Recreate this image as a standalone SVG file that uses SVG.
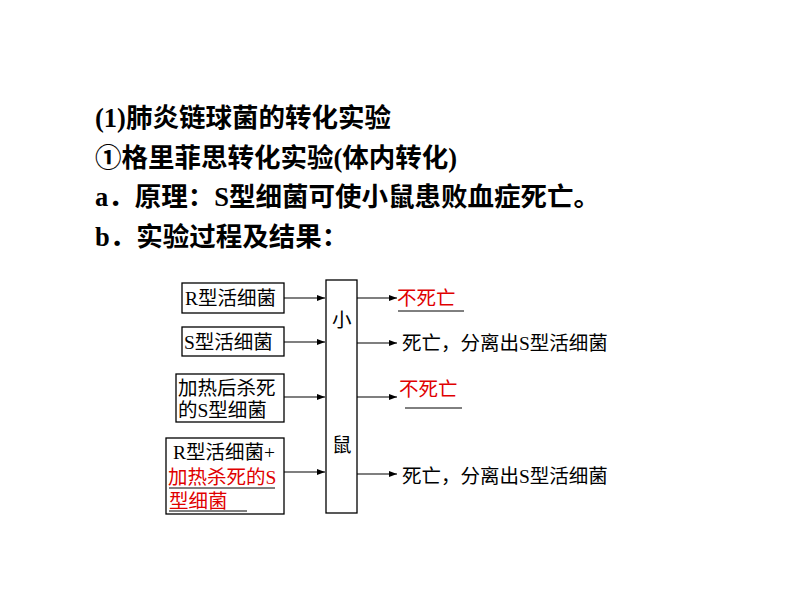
<svg xmlns="http://www.w3.org/2000/svg" width="800" height="600" viewBox="0 0 800 600">
<defs>
<marker id="ah" markerWidth="8" markerHeight="6" refX="8" refY="3" orient="auto" markerUnits="userSpaceOnUse"><path d="M0,0 L8,3 L0,6 z" fill="#000"/></marker>
<style>
text{font-family:"Liberation Serif","Noto Sans CJK SC",serif;}
.h{font-size:26.5px;font-weight:bold;fill:#000}
.n{font-size:19.5px;fill:#000}
.r{fill:#e00000}
.box{fill:#fff;stroke:#000;stroke-width:1.3}
.c{stroke:#000;stroke-width:1.2;fill:none;marker-end:url(#ah)}
.u{stroke:#000;stroke-width:1}
</style>
</defs>
<rect width="800" height="600" fill="#fff"/>
<text class="h" x="95" y="127">(1)肺炎链球菌的转化实验</text>
<text class="h" x="95" y="167">①格里菲思转化实验(体内转化)</text>
<text class="h" x="95" y="206">a．原理：S型细菌可使小鼠患败血症死亡。</text>
<text class="h" x="95" y="246">b．实验过程及结果：</text>
<g id="n1"><rect class="box" x="182" y="283" width="102" height="30"/><text class="n" x="185" y="305">R型活细菌</text></g>
<g id="n2"><rect class="box" x="182" y="327" width="102" height="29"/><text class="n" x="184" y="349">S型活细菌</text></g>
<g id="n3"><rect class="box" x="176" y="374" width="108" height="48"/><text class="n" x="178" y="395">加热后杀死</text><text class="n" x="178" y="417">的S型细菌</text></g>
<g id="n4"><rect class="box" x="166" y="438" width="118" height="76"/><text class="n" x="173" y="459">R型活细菌+</text><text class="n r" x="168" y="484">加热杀死的S</text><text class="n r" x="169" y="508">型细菌</text><line class="u" x1="169" y1="488" x2="275" y2="488"/><line class="u" x1="169" y1="511" x2="247" y2="511"/></g>
<g id="mouse"><rect class="box" x="326" y="280" width="31" height="233"/><text class="n" x="332" y="327">小</text><text class="n" x="332" y="452">鼠</text></g>
<g id="r1"><text class="n r" x="397" y="305">不死亡</text><line class="u" x1="398" y1="311" x2="464" y2="311"/></g>
<g id="r2"><text class="n" x="402" y="350">死亡，分离出S型活细菌</text></g>
<g id="r3"><text class="n r" x="399" y="396">不死亡</text><line class="u" x1="405" y1="408" x2="462" y2="408"/></g>
<g id="r4"><text class="n" x="402" y="483">死亡，分离出S型活细菌</text></g>
<g id="connectors">
<line class="c" x1="284" y1="298" x2="325" y2="298"/>
<line class="c" x1="284" y1="342" x2="325" y2="342"/>
<line class="c" x1="284" y1="397" x2="325" y2="397"/>
<line class="c" x1="284" y1="472" x2="325" y2="472"/>
<line class="c" x1="357" y1="298" x2="397" y2="298"/>
<line class="c" x1="357" y1="343" x2="397" y2="343"/>
<line class="c" x1="357" y1="397" x2="397" y2="397"/>
<line class="c" x1="357" y1="474" x2="397" y2="474"/>
</g>
</svg>
